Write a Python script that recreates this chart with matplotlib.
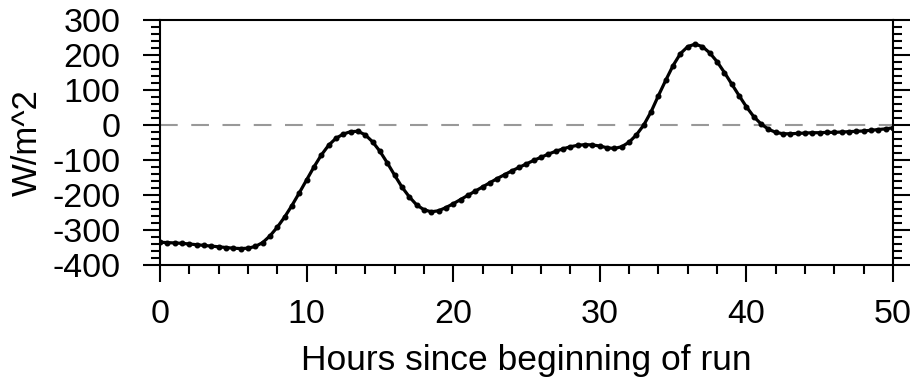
import numpy as np
import matplotlib.pyplot as plt
from matplotlib.ticker import MultipleLocator

# half-hourly net flux over the run
hours = np.arange(0, 50.5, 0.5)
flux = [
    -335, -336, -337, -338, -340, -342, -344, -346, -348, -350,
    -352, -353, -352, -347, -336, -317, -292, -263, -230, -194,
    -157, -120, -86, -58, -38, -26, -19, -18, -28, -48,
    -75, -108, -143, -177, -205, -228, -242, -248, -245, -236,
    -225, -213, -201, -189, -177, -165, -153, -142, -131, -121,
    -111, -101, -92, -83, -75, -68, -62, -58, -56, -57,
    -60, -65, -67, -62, -49, -28, 0, 38, 84, 128,
    170, 204, 224, 231, 224, 206, 181, 150, 117, 84,
    52, 24, 3, -12, -21, -25, -25, -24, -23, -22,
    -22, -21, -21, -20, -19, -18, -17, -15, -13, -11,
    -8,
]
xticks = [0, 10, 20, 30, 40, 50]
yticks = [-400, -300, -200, -100, 0, 100, 200, 300]

plt.rcParams['font.family'] = ['Liberation Sans', 'DejaVu Sans']
plt.rcParams['axes.unicode_minus'] = False

fig = plt.figure(figsize=(9.12, 3.82), dpi=100)
ax = fig.add_axes([160 / 912, 1 - 265 / 382, 733 / 912, 245 / 382])

ax.axhline(0, color='#999999', lw=1.5, dashes=(8.5, 6.5), zorder=1)
ax.plot(hours, flux, color='black', lw=2.3, marker='o', ms=3.3, zorder=3)

ax.set_xlim(0, 50)
ax.set_ylim(-400, 300)
ax.set_xticks(xticks)
ax.set_yticks(yticks)
ax.xaxis.set_minor_locator(MultipleLocator(2))
ax.yaxis.set_minor_locator(MultipleLocator(20))

for s in ax.spines.values():
    s.set_linewidth(1.5)

ax.tick_params(which='both', direction='out', width=1.5, top=False,
               right=True, labelsize=24.5)
ax.tick_params(which='major', length=12.5)
ax.tick_params(which='minor', length=6.2)
ax.tick_params(axis='x', pad=12)
ax.tick_params(axis='y', pad=16)

ax.set_xlabel('Hours since beginning of run', fontsize=25.5, labelpad=10)
ax.set_ylabel('W/m^2', fontsize=25, labelpad=6)

fig.savefig('out.png', dpi=100)
